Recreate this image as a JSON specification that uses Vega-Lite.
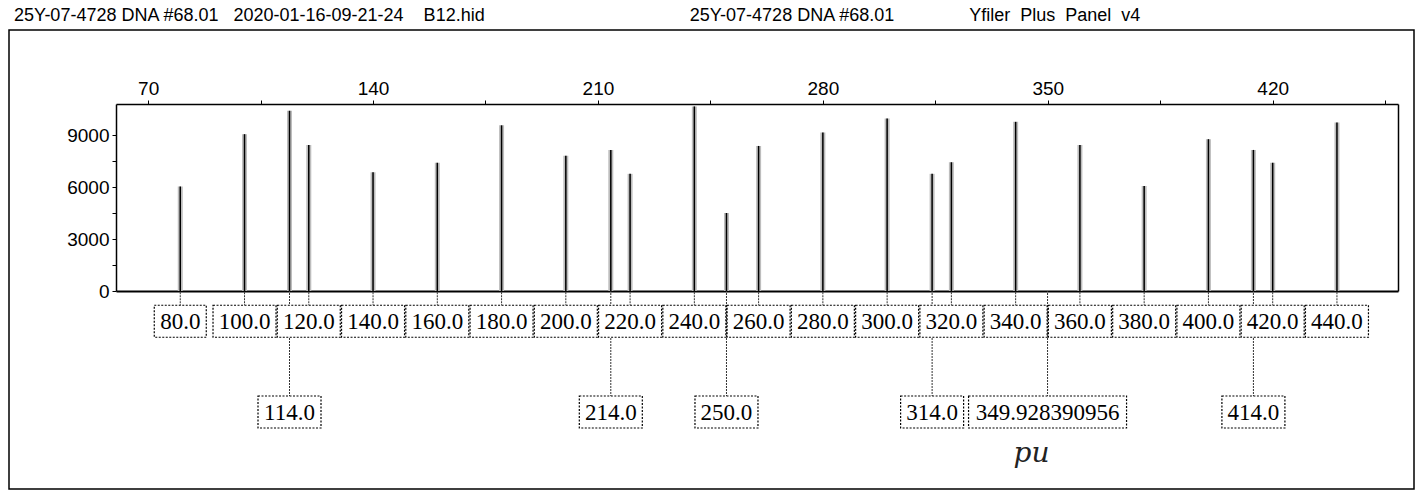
{
  "$schema": "https://vega.github.io/schema/vega-lite/v6.json",
  "width": 1405,
  "height": 459,
  "autosize": {"type": "none"},
  "padding": {"left": 9, "top": 30, "right": 7, "bottom": 8},
  "background": "white",
  "title": {
    "text": "25Y-07-4728 DNA #68.01\u00a0\u00a0\u00a02020-01-16-09-21-24\u00a0\u00a0\u00a0\u00a0B12.hid\u00a0\u00a0\u00a0\u00a0\u00a0\u00a0\u00a0\u00a0\u00a0\u00a0\u00a0\u00a0\u00a0\u00a0\u00a0\u00a0\u00a0\u00a0\u00a0\u00a0\u00a0\u00a0\u00a0\u00a0\u00a0\u00a0\u00a0\u00a0\u00a0\u00a0\u00a0\u00a0\u00a0\u00a0\u00a0\u00a0\u00a0\u00a0\u00a0\u00a0\u00a025Y-07-4728 DNA #68.01\u00a0\u00a0\u00a0\u00a0\u00a0\u00a0\u00a0\u00a0\u00a0\u00a0\u00a0\u00a0\u00a0\u00a0\u00a0Yfiler\u00a0\u00a0Plus\u00a0\u00a0Panel\u00a0\u00a0v4",
    "anchor": "start",
    "frame": "group",
    "dx": 5,
    "offset": 5,
    "font": "Liberation Sans",
    "fontSize": 18,
    "fontWeight": "normal",
    "color": "black"
  },
  "config": {
    "view": {"stroke": "black", "strokeWidth": 1.5},
    "axis": {
      "labelFont": "Liberation Sans",
      "labelFontSize": 19,
      "labelColor": "black",
      "domainColor": "black",
      "tickColor": "black",
      "grid": false,
      "title": null
    }
  },
  "data": {
    "values": [
      {"size": 80, "height": 6030, "label": "80.0", "tier": 1},
      {"size": 100, "height": 9050, "label": "100.0", "tier": 1},
      {"size": 114, "height": 10400, "label": "114.0", "tier": 2},
      {"size": 120, "height": 8420, "label": "120.0", "tier": 1},
      {"size": 140, "height": 6850, "label": "140.0", "tier": 1},
      {"size": 160, "height": 7400, "label": "160.0", "tier": 1},
      {"size": 180, "height": 9560, "label": "180.0", "tier": 1},
      {"size": 200, "height": 7800, "label": "200.0", "tier": 1},
      {"size": 214, "height": 8130, "label": "214.0", "tier": 2},
      {"size": 220, "height": 6760, "label": "220.0", "tier": 1},
      {"size": 240, "height": 10650, "label": "240.0", "tier": 1},
      {"size": 250, "height": 4500, "label": "250.0", "tier": 2},
      {"size": 260, "height": 8370, "label": "260.0", "tier": 1},
      {"size": 280, "height": 9150, "label": "280.0", "tier": 1},
      {"size": 300, "height": 9950, "label": "300.0", "tier": 1},
      {"size": 314, "height": 6760, "label": "314.0", "tier": 2},
      {"size": 320, "height": 7430, "label": "320.0", "tier": 1},
      {"size": 340, "height": 9760, "label": "340.0", "tier": 1},
      {"size": 349.928390956, "height": 0, "label": "349.928390956", "tier": 2, "note": "pu"},
      {"size": 360, "height": 8420, "label": "360.0", "tier": 1},
      {"size": 380, "height": 6060, "label": "380.0", "tier": 1},
      {"size": 400, "height": 8760, "label": "400.0", "tier": 1},
      {"size": 414, "height": 8140, "label": "414.0", "tier": 2},
      {"size": 420, "height": 7400, "label": "420.0", "tier": 1},
      {"size": 440, "height": 9720, "label": "440.0", "tier": 1}
    ]
  },
  "layer": [
    {
      "mark": {"type": "rule", "color": "#bdbdbd", "strokeWidth": 5},
      "encoding": {
        "x": {"field": "size", "type": "quantitative",
              "scale": {"domain": [60, 459], "range": [107, 1389], "nice": false, "zero": false},
              "axis": {"orient": "bottom", "offset": -198, "labels": false, "ticks": false, "domainWidth": 2}},
        "y": {"field": "height", "type": "quantitative",
              "scale": {"domain": [0, 10790], "range": [261, 74], "nice": false},
              "axis": {"orient": "right", "offset": -16, "labels": false, "ticks": false, "domainWidth": 1.5}},
        "y2": {"datum": 0}
      }
    },
    {
      "mark": {"type": "rule", "color": "black", "strokeWidth": 1.5},
      "encoding": {
        "x": {"field": "size", "type": "quantitative",
              "axis": {"orient": "top", "offset": -74, "values": [70, 105, 140, 175, 210, 245, 280, 315, 350, 385, 420, 455],
                       "labelExpr": "datum.value % 70 === 0 ? datum.label : ''", "format": "d",
                       "tickSize": 4, "labelPadding": 2, "domainWidth": 1.5}},
        "y": {"field": "height", "type": "quantitative",
              "scale": {"domain": [0, 10790], "range": [261, 74], "nice": false},
              "axis": {"orient": "left", "offset": -107, "values": [0, 1500, 3000, 4500, 6000, 7500, 9000],
                       "labelExpr": "datum.value % 3000 === 0 ? datum.label : ''", "format": "d",
                       "tickSize": 4, "labelPadding": 3, "domainWidth": 1.5}},
        "y2": {"datum": 0}
      }
    },
    {
      "mark": {"type": "rule", "color": "#333333", "strokeWidth": 1, "strokeDash": [2, 1]},
      "encoding": {
        "x": {"field": "size", "type": "quantitative", "axis": null},
        "y": {"field": "tier", "type": "quantitative",
              "scale": {"type": "pow", "exponent": 2, "domain": [0, 2], "range": [261, 382]}, "axis": null},
        "y2": {"datum": 0}
      }
    },
    {
      "transform": [{"filter": "length(datum.label) == 4"}],
      "mark": {"type": "rect", "width": 52, "height": 32, "fill": "white", "stroke": "black", "strokeWidth": 1.2, "strokeDash": [2, 1.5]},
      "encoding": {
        "x": {"field": "size", "type": "quantitative", "axis": null},
        "y": {"field": "tier", "type": "quantitative",
              "scale": {"type": "pow", "exponent": 2, "domain": [0, 2], "range": [261, 382]}, "axis": null}
      }
    },
    {
      "transform": [{"filter": "length(datum.label) == 5"}],
      "mark": {"type": "rect", "width": 63, "height": 32, "fill": "white", "stroke": "black", "strokeWidth": 1.2, "strokeDash": [2, 1.5]},
      "encoding": {
        "x": {"field": "size", "type": "quantitative", "axis": null},
        "y": {"field": "tier", "type": "quantitative",
              "scale": {"type": "pow", "exponent": 2, "domain": [0, 2], "range": [261, 382]}, "axis": null}
      }
    },
    {
      "transform": [{"filter": "length(datum.label) > 5"}],
      "mark": {"type": "rect", "width": 158, "height": 32, "fill": "white", "stroke": "black", "strokeWidth": 1.2, "strokeDash": [2, 1.5]},
      "encoding": {
        "x": {"field": "size", "type": "quantitative", "axis": null},
        "y": {"field": "tier", "type": "quantitative",
              "scale": {"type": "pow", "exponent": 2, "domain": [0, 2], "range": [261, 382]}, "axis": null}
      }
    },
    {
      "mark": {"type": "text", "font": "Liberation Serif", "fontSize": 23, "color": "black", "align": "center", "baseline": "middle", "dy": 1},
      "encoding": {
        "x": {"field": "size", "type": "quantitative", "axis": null},
        "y": {"field": "tier", "type": "quantitative",
              "scale": {"type": "pow", "exponent": 2, "domain": [0, 2], "range": [261, 382]}, "axis": null},
        "text": {"field": "label"}
      }
    },
    {
      "transform": [{"filter": "datum.note != null"}],
      "mark": {"type": "text", "font": "DejaVu Serif", "fontStyle": "italic", "fontSize": 28, "color": "#222222", "align": "center", "baseline": "middle", "dx": -16, "dy": 42},
      "encoding": {
        "x": {"field": "size", "type": "quantitative", "axis": null},
        "y": {"field": "tier", "type": "quantitative",
              "scale": {"type": "pow", "exponent": 2, "domain": [0, 2], "range": [261, 382]}, "axis": null},
        "text": {"field": "note"}
      }
    }
  ],
  "resolve": {"scale": {"y": "independent"}, "axis": {"x": "independent"}}
}
